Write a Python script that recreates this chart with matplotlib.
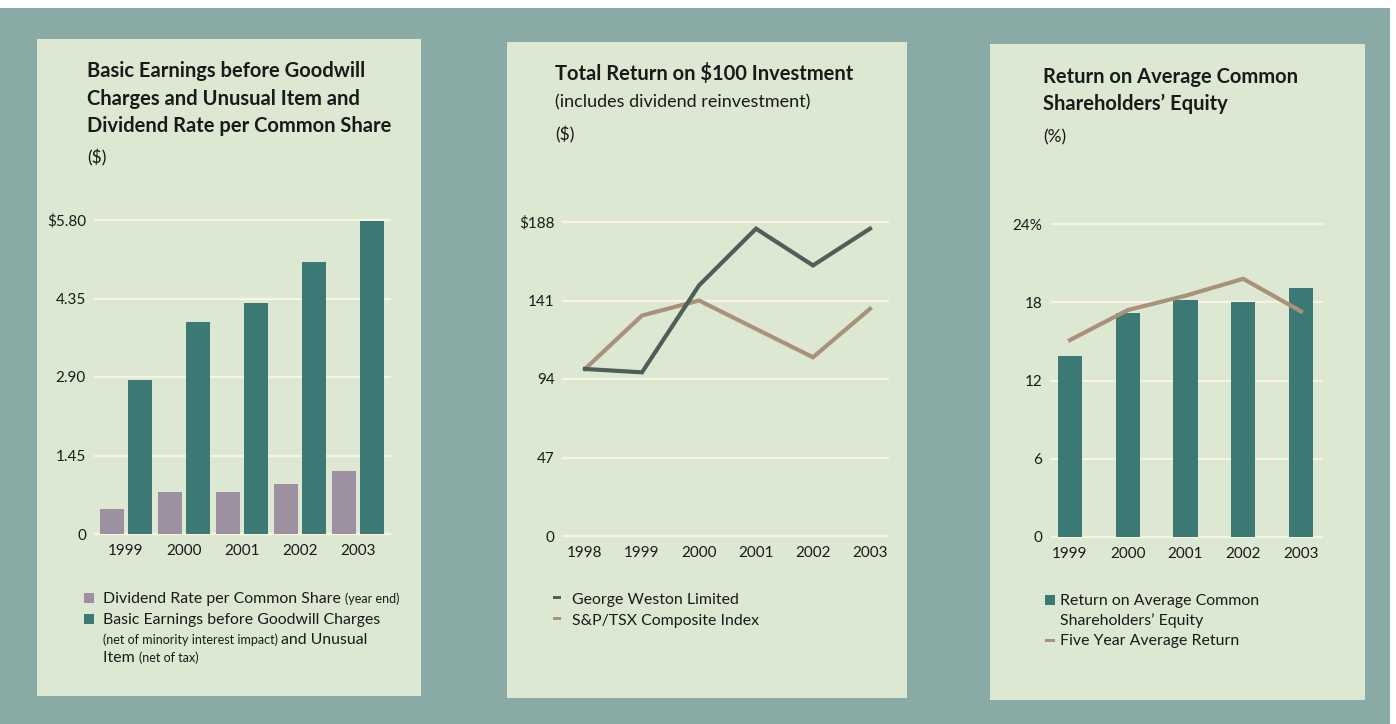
import matplotlib
matplotlib.use("Agg")
import matplotlib.pyplot as plt
from matplotlib.patches import Rectangle
import numpy as np

plt.rcParams['font.family'] = ['Lato', 'DejaVu Sans']

# ---- data -------------------------------------------------------------
eps_years = ["1999", "2000", "2001", "2002", "2003"]
dividend_rate = [0.46, 0.78, 0.77, 0.93, 1.17]
basic_earnings = [2.85, 3.91, 4.26, 5.03, 5.78]
eps_ticks = [0, 1.45, 2.90, 4.35, 5.80]
eps_tick_labels = ["0", "1.45", "2.90", "4.35", "$5.80"]

tr_years = ["1998", "1999", "2000", "2001", "2002", "2003"]
george_weston = [100, 98, 150, 184, 162, 184]
sp_tsx = [100, 132, 141, 124, 107, 136]
tr_ticks = [0, 47, 94, 141, 188]
tr_tick_labels = ["0", "47", "94", "141", "$188"]

roe_years = ["1999", "2000", "2001", "2002", "2003"]
roe = [13.9, 17.2, 18.2, 18.05, 19.1]
five_year_avg = [15.1, 17.4, 18.5, 19.8, 17.3]
roe_ticks = [0, 6, 12, 18, 24]
roe_tick_labels = ["0", "6", "12", "18", "24%"]

# ---- styling ----------------------------------------------------------
W, H = 1396, 724
OUTER = "#8aaba5"
PANEL = "#dde8d2"
GRID = "#f7f5df"
TEAL = "#3c7975"
MAUVE = "#9d90a1"
DARK = "#4e5e58"
TAN = "#a99279"
TXT = "#1a1a1a"
TITLE_SIZE = 14.5
BODY_SIZE = 11.4
SMALL_SIZE = 9
TICK_SIZE = 11

fig = plt.figure(figsize=(W / 100, H / 100), dpi=100)
fig.patch.set_facecolor("white")


def fx(x):
    return x / W


def fy(y):
    return 1 - y / H


def rect(x0, y0, x1, y1, color, z=0):
    fig.patches.append(Rectangle((fx(x0), fy(y1)), (x1 - x0) / W, (y1 - y0) / H,
                                 transform=fig.transFigure, facecolor=color,
                                 edgecolor="none", zorder=z))


def text(x, y, s, size=BODY_SIZE, weight="normal", **kw):
    return fig.text(fx(x), fy(y), s, fontsize=size, fontweight=weight,
                    color=TXT, va="baseline", ha="left", zorder=10, **kw)


def axes(x0, y0, x1, y1):
    ax = fig.add_axes([fx(x0), fy(y1), (x1 - x0) / W, (y1 - y0) / H])
    ax.set_zorder(5)
    ax.set_facecolor("none")
    for s in ax.spines.values():
        s.set_visible(False)
    ax.tick_params(length=0, labelsize=TICK_SIZE, labelcolor=TXT)
    return ax


# background and panels
rect(0, 8, 1390, 724, OUTER, z=0)
rect(37, 39, 421, 696, PANEL, z=1)
rect(507, 42, 907, 698, PANEL, z=1)
rect(990, 44, 1365, 700, PANEL, z=1)

# ---- panel 1: earnings and dividend bars -------------------------------
ax1 = axes(95, 220, 390, 534)
ax1.set_ylim(0, 5.80)
ax1.set_xlim(-0.534, 4.552)
for t in eps_ticks:
    ax1.axhline(t, color=GRID, lw=1.6, zorder=0, clip_on=False)
x = np.arange(len(eps_years))
bw = 0.40
ax1.bar(x - 0.241, dividend_rate, bw, color=MAUVE, zorder=2)
ax1.bar(x + 0.241, basic_earnings, bw, color=TEAL, zorder=2)
ax1.set_yticks(eps_ticks, eps_tick_labels)
ax1.set_xticks(x, eps_years)
ax1.tick_params(axis="y", pad=6.5)
ax1.tick_params(axis="x", pad=7)

text(87, 77, "Basic Earnings before Goodwill", TITLE_SIZE, "bold")
text(87, 105, "Charges and Unusual Item and", TITLE_SIZE, "bold")
text(87, 132, "Dividend Rate per Common Share", TITLE_SIZE, "bold")
text(87, 163, "($)", 12.5)

rect(84, 593, 94, 603, MAUVE, z=3)
rect(84, 614, 94, 624, TEAL, z=3)

# legend rows mixing regular and small type
fig.canvas.draw()
renderer = fig.canvas.get_renderer()


def run(x, y, parts):
    for s, size in parts:
        t = text(x, y, s, size)
        bb = t.get_window_extent(renderer=renderer)
        x += bb.width


run(103, 603, [("Dividend Rate per Common Share ", BODY_SIZE), ("(year end)", SMALL_SIZE)])
run(103, 624, [("Basic Earnings before Goodwill Charges", BODY_SIZE)])
run(103, 644, [("(net of minority interest impact) ", SMALL_SIZE), ("and Unusual", BODY_SIZE)])
run(103, 662, [("Item ", BODY_SIZE), ("(net of tax)", SMALL_SIZE)])

# ---- panel 2: total return lines ---------------------------------------
ax2 = axes(563, 222, 888, 536)
ax2.set_ylim(0, 188)
ax2.set_xlim(-0.386, 5.316)
for t in tr_ticks:
    ax2.axhline(t, color=GRID, lw=1.6, zorder=0, clip_on=False)
x2 = np.arange(len(tr_years))
ax2.plot(x2, george_weston, color=DARK, lw=3, zorder=3, solid_joinstyle="miter")
ax2.plot(x2, sp_tsx, color=TAN, lw=3, zorder=2, solid_joinstyle="miter")
ax2.set_yticks(tr_ticks, tr_tick_labels)
ax2.set_xticks(x2, tr_years)
ax2.tick_params(axis="y", pad=6)
ax2.tick_params(axis="x", pad=7)

text(555, 80, "Total Return on $100 Investment", TITLE_SIZE, "bold")
text(555, 107, "(includes dividend reinvestment)", 13)
text(555, 140, "($)", 12.5)

rect(553, 596, 561, 599, DARK, z=3)
rect(553, 617, 561, 620, TAN, z=3)
text(572, 604, "George Weston Limited", BODY_SIZE)
text(572, 625, "S&P/TSX Composite Index", BODY_SIZE)

# ---- panel 3: return on equity -----------------------------------------
ax3 = axes(1052, 224, 1322, 537)
ax3.set_ylim(0, 24)
ax3.set_xlim(-0.312, 4.364)
for t in roe_ticks:
    ax3.axhline(t, color=GRID, lw=1.6, zorder=0, clip_on=False)
x3 = np.arange(len(roe_years))
ax3.bar(x3, roe, 0.416, color=TEAL, zorder=2)
ax3.plot(x3, five_year_avg, color=TAN, lw=3, zorder=3, solid_joinstyle="miter")
ax3.set_yticks(roe_ticks, roe_tick_labels)
ax3.set_xticks(x3, roe_years)
ax3.tick_params(axis="y", pad=7)
ax3.tick_params(axis="x", pad=7)

text(1043, 83, "Return on Average Common", TITLE_SIZE, "bold")
text(1043, 110, "Shareholders\u2019 Equity", TITLE_SIZE, "bold")
text(1043, 142, "(%)", 12.5)

rect(1045, 595, 1055, 605, TEAL, z=3)
rect(1045, 639, 1055, 642, TAN, z=3)
text(1060, 605, "Return on Average Common", BODY_SIZE)
text(1060, 625, "Shareholders\u2019 Equity", BODY_SIZE)
text(1060, 645, "Five Year Average Return", BODY_SIZE)

fig.savefig("out.png", dpi=100, facecolor=fig.get_facecolor())
